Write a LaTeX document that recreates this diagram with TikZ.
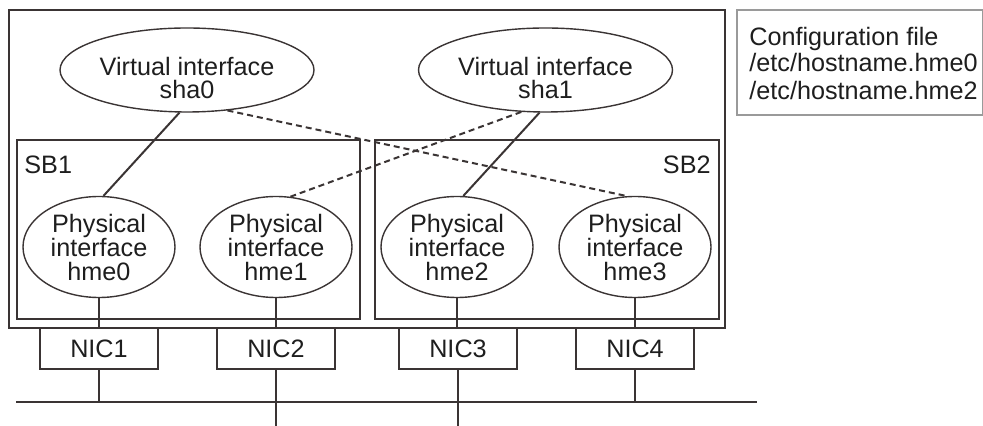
\documentclass[tikz,border=0pt]{standalone}
\usepackage{fontspec}
\setmainfont{Liberation Sans}
\usetikzlibrary{shapes.geometric}
\definecolor{ln}{HTML}{3A3434}
\definecolor{txt}{HTML}{1E1E1E}
\definecolor{cfgc}{HTML}{9A9A9A}
\begin{document}
\begin{tikzpicture}[x=0.5pt,y=-0.5pt,
  box/.style={draw=ln, line width=0.8pt},
  cfgbox/.style={draw=cfgc, line width=0.7pt},
  virt/.style={ellipse, draw=ln, line width=0.7pt, minimum width=127pt, minimum height=42pt, inner sep=0pt},
  phys/.style={ellipse, draw=ln, line width=0.7pt, minimum width=76pt, minimum height=50.5pt, inner sep=0pt, align=center, text=txt, font=\fontsize{12.6}{12}\selectfont},
  nic/.style={rectangle, draw=ln, line width=0.8pt, minimum width=59pt, minimum height=20.5pt, inner sep=0pt, text=txt, font=\fontsize{12.6}{12}\selectfont},
  lbl/.style={inner sep=0pt, align=center, text=txt, font=\fontsize{12.6}{11.5}\selectfont},
  cfglbl/.style={inner sep=0pt, align=left, text=txt, font=\fontsize{12.6}{13.5}\selectfont},
  conn/.style={draw=ln, line width=1pt},
  dconn/.style={conn, dash pattern=on 3pt off 2pt}]
\useasboundingbox (0,0) rectangle (983,426);
% frames
\draw[box] (9,10) rectangle (725,328);
\draw[box] (17,140) rectangle (360,319);
\draw[box] (375,140) rectangle (719,319);
\draw[cfgbox] (737,10) rectangle (982.5,115);
\node[lbl, anchor=west] (sb1) at (24,164.5) {SB1};
\node[lbl, anchor=east] (sb2) at (711,164.5) {SB2};
\node[cfglbl, anchor=west] (cfg) at (749,63) {Configuration file\\/etc/hostname.hme0\\/etc/hostname.hme2};
% virtual interfaces
\node[virt] (sha0) at (187,70) {};
\node[lbl] (sha0t) at (187,78) {Virtual interface\\sha0};
\node[virt] (sha1) at (545.5,70) {};
\node[lbl] (sha1t) at (545.5,78) {Virtual interface\\sha1};
% physical interfaces
\node[phys] (hme0) at (99,247) {Physical\\interface\\hme0};
\node[phys] (hme1) at (276,247) {Physical\\interface\\hme1};
\node[phys] (hme2) at (457,247) {Physical\\interface\\hme2};
\node[phys] (hme3) at (635,247) {Physical\\interface\\hme3};
% NICs
\node[nic] (nic1) at (99,348.5) {NIC1};
\node[nic] (nic2) at (276,348.5) {NIC2};
\node[nic] (nic3) at (458,348.5) {NIC3};
\node[nic] (nic4) at (635,348.5) {NIC4};
% bus
\coordinate (busL) at (16,402);
\coordinate (busR) at (757,402);
\coordinate (bot) at (0,427);
\draw[conn] (busL) -- (busR);
% connectors
\draw[conn] (sha0.260) -- (hme0.85);
\draw[conn] (sha1.262) -- (hme2.83);
\draw[dconn] (sha0.315) -- (hme3.99);
\draw[dconn] (sha1.240) -- (hme1.74);
\draw[conn] (hme0.south) -- (nic1.north);
\draw[conn] (hme1.south) -- (nic2.north);
\draw[conn] (hme2.south) -- (hme2.south |- nic3.north);
\draw[conn] (hme3.south) -- (nic4.north);
\draw[conn] (nic1.south) -- (nic1.south |- busL);
\draw[conn] (nic2.south) -- (nic2.south |- bot);
\draw[conn] (nic3.south) -- (nic3.south |- bot);
\draw[conn] (nic4.south) -- (nic4.south |- busL);
\end{tikzpicture}
\end{document}
